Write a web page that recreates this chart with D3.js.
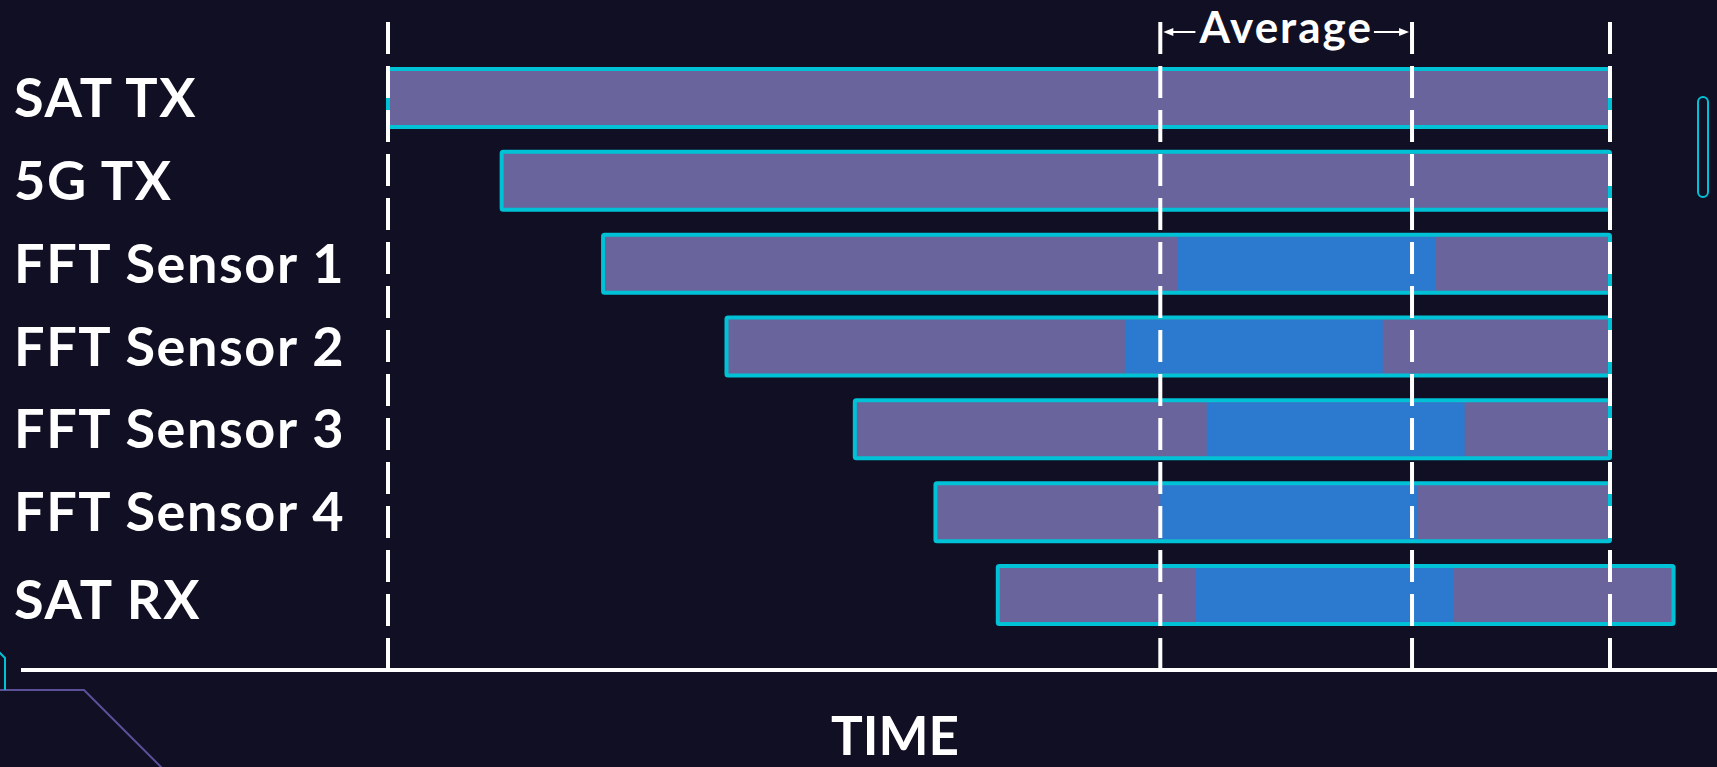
<!DOCTYPE html>
<html>
<head>
<meta charset="utf-8">
<script src="https://cdn.jsdelivr.net/npm/d3@7"></script>
<style>
  html, body { margin: 0; padding: 0; background: #110f23; overflow: hidden; }
  svg { display: block; }
  text { font-family: Lato, "Noto Sans", sans-serif; font-weight: 700; fill: #ffffff; }
</style>
</head>
<body>
<svg id="chart" width="1717" height="767"></svg>
<script>
// Task rows, top to bottom
const rows = ["SAT TX", "5G TX", "FFT Sensor 1", "FFT Sensor 2", "FFT Sensor 3", "FFT Sensor 4", "SAT RX"];
// Start / end of each task on the time axis (arbitrary time units)
const starts = [0, 9.3, 17.6, 27.7, 38.2, 44.8, 49.9];
const ends   = [100, 100, 100, 100, 100, 100, 105.2];
// Processing window inside each task (null = none)
const procStart = [null, null, 64.6, 60.3, 67.0, 63.2, 66.1];
const procEnd   = [null, null, 85.7, 81.4, 88.1, 84.2, 87.2];
// Vertical reference markers and the averaged window
const markers = [0, 63.2, 83.8, 100];
const averageWindow = [63.2, 83.8];
const axisTitle = "TIME";
const averageLabel = "Average";

const C = {
  bg: "#110f23",
  bar: "#69649b",
  proc: "#2b7ad0",
  edge: "#00c2d6",
  white: "#ffffff",
  deco: "#5b4f98"
};

const svg = d3.select("#chart");
svg.append("rect").attr("width", 1717).attr("height", 767).attr("fill", C.bg);

const x = d3.scaleLinear().domain([0, 100]).range([388, 1610]);
const y = d3.scaleBand().domain(rows).range([44.2, 648.8]).paddingInner(0.3).paddingOuter(0.3);
const axisY = 670;

const tasks = rows.map((r, i) => ({
  row: r, start: starts[i], end: ends[i], ps: procStart[i], pe: procEnd[i]
}));

// Decorative corner lines
svg.append("path")
  .attr("d", "M0,690 L84,690 L162,768")
  .attr("fill", "none").attr("stroke", C.deco).attr("stroke-width", 2);
svg.append("path")
  .attr("d", "M-1,652 L5,658 L5,690")
  .attr("fill", "none").attr("stroke", C.edge).attr("stroke-width", 2);
svg.append("rect")
  .attr("x", 1698).attr("y", 97).attr("width", 10).attr("height", 100).attr("rx", 5)
  .attr("fill", "none").attr("stroke", C.edge).attr("stroke-width", 2);

// Bars
const g = svg.append("g");
g.selectAll("rect.bar").data(tasks).join("rect")
  .attr("class", "bar")
  .attr("x", d => x(d.start)).attr("y", d => y(d.row))
  .attr("width", d => x(d.end) - x(d.start)).attr("height", y.bandwidth())
  .attr("fill", C.bar);

g.selectAll("rect.proc").data(tasks.filter(d => d.ps !== null)).join("rect")
  .attr("class", "proc")
  .attr("x", d => x(d.ps)).attr("y", d => y(d.row) + 2)
  .attr("width", d => x(d.pe) - x(d.ps)).attr("height", y.bandwidth() - 4)
  .attr("fill", C.proc);

g.selectAll("rect.edge").data(tasks).join("rect")
  .attr("class", "edge")
  .attr("x", d => x(d.start)).attr("y", d => y(d.row))
  .attr("width", d => x(d.end) - x(d.start)).attr("height", y.bandwidth())
  .attr("rx", 1.5)
  .attr("fill", "none").attr("stroke", C.edge).attr("stroke-width", 4);

// Row labels
svg.selectAll("text.row").data(rows).join("text")
  .attr("class", "row")
  .attr("x", 14)
  .attr("y", d => y(d) + y.bandwidth() / 2 + 19 + (d === "SAT RX" ? 5 : 0))
  .attr("font-size", 54)
  .attr("letter-spacing", 1.6)
  .text(d => d);

// Time axis line
svg.append("line")
  .attr("x1", 21).attr("x2", 1717).attr("y1", axisY).attr("y2", axisY)
  .attr("stroke", C.white).attr("stroke-width", 4);

// Dashed markers
svg.selectAll("line.marker").data(markers).join("line")
  .attr("class", "marker")
  .attr("x1", d => x(d)).attr("x2", d => x(d))
  .attr("y1", 22).attr("y2", axisY)
  .attr("stroke", C.white).attr("stroke-width", 4)
  .attr("stroke-dasharray", "32 12");

// Average annotation
const ax0 = x(averageWindow[0]), ax1 = x(averageWindow[1]);
const arrowY = 32;
const mid = (ax0 + ax1) / 2;
const avgText = svg.append("text")
  .attr("x", mid).attr("y", 43)
  .attr("text-anchor", "middle")
  .attr("font-size", 44)
  .attr("letter-spacing", 2)
  .text(averageLabel);
const bb = avgText.node().getBBox();
const tl = bb.x - 3, tr = bb.x + bb.width + 1;
svg.append("line").attr("x1", ax0 + 10).attr("x2", tl).attr("y1", arrowY).attr("y2", arrowY)
  .attr("stroke", C.white).attr("stroke-width", 2);
svg.append("line").attr("x1", tr).attr("x2", ax1 - 10).attr("y1", arrowY).attr("y2", arrowY)
  .attr("stroke", C.white).attr("stroke-width", 2);
svg.append("path")
  .attr("d", `M${ax0 + 3},${arrowY} L${ax0 + 13},${arrowY - 4} L${ax0 + 13},${arrowY + 4} Z`)
  .attr("fill", C.white);
svg.append("path")
  .attr("d", `M${ax1 - 3},${arrowY} L${ax1 - 13},${arrowY - 4} L${ax1 - 13},${arrowY + 4} Z`)
  .attr("fill", C.white);

// Axis title
svg.append("text")
  .attr("x", 895).attr("y", 755)
  .attr("text-anchor", "middle")
  .attr("font-size", 53)
  .text(axisTitle);
</script>
</body>
</html>
